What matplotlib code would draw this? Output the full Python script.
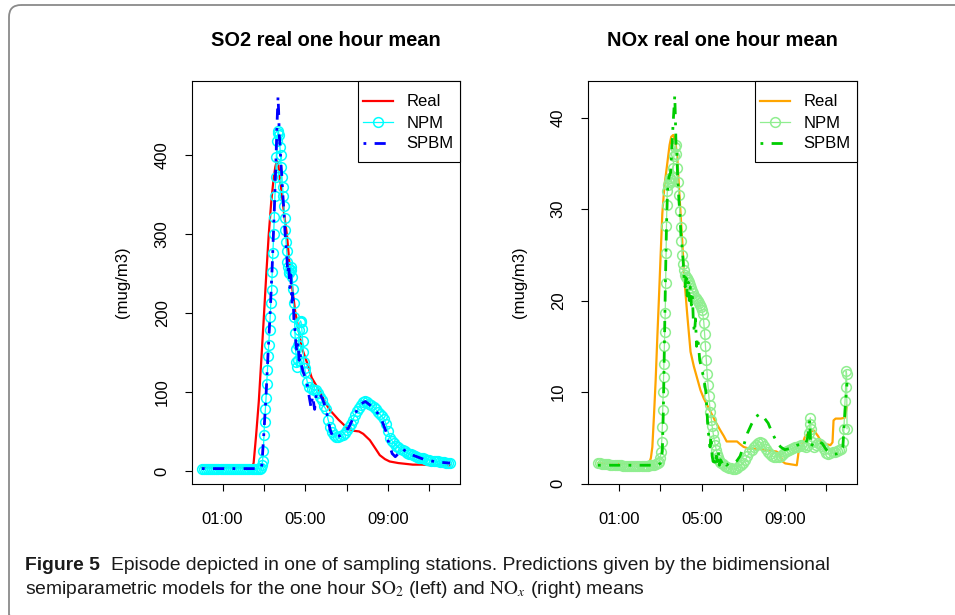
import matplotlib
matplotlib.use("Agg")
import matplotlib.pyplot as plt
from matplotlib.patches import FancyBboxPatch, Rectangle

plt.rcParams['font.family'] = ['Liberation Sans', 'DejaVu Sans']
plt.rcParams['mathtext.fontset'] = 'stix'

# ---------------- data (time in hours, values in mug/m3) ----------------
# SO2 - real
so2_real_t = [0.0, 2.4, 2.5, 2.62, 2.75, 2.87, 2.99, 3.11, 3.23, 3.35, 3.47, 3.55, 3.62, 3.68,
              3.75, 3.87, 4.0, 4.11, 4.27, 4.51, 4.83, 5.07, 5.31, 5.71, 6.0, 6.19, 6.6, 7.0,
              7.3, 7.6, 7.8, 8.12, 8.4, 8.6, 8.85, 9.08, 9.5, 10.2, 10.68, 11.2, 12.0]
so2_real_v = [4, 4, 10, 45, 88, 140, 193, 248, 299, 340, 371, 385, 392, 390,
              375, 349, 320, 299, 252, 202, 156, 138, 118, 100, 85, 77, 65, 55,
              51, 50, 47, 39, 28, 20, 15, 12, 10, 8, 8, 7, 7]

# SO2 - NPM
so2_npm_t = [0.0, 0.1, 0.2, 0.3, 0.4, 0.5, 0.6, 0.7, 0.8, 0.9, 1.0, 1.1, 1.2, 1.3, 1.4,
             1.5, 1.6, 1.7, 1.8, 1.9, 2.0, 2.1, 2.2, 2.3, 2.4, 2.5, 2.6, 2.7, 2.8,
             2.85, 2.9, 2.93, 2.97, 3.0, 3.03, 3.07, 3.1, 3.13, 3.17, 3.2, 3.23, 3.27, 3.3,
             3.33, 3.37, 3.4, 3.43, 3.47, 3.5, 3.53, 3.57, 3.6, 3.63, 3.67, 3.7, 3.73, 3.77,
             3.8, 3.83, 3.87, 3.9, 3.93, 3.97, 4.0, 4.03, 4.07, 4.1, 4.13, 4.17, 4.2, 4.23,
             4.27, 4.3, 4.33, 4.37, 4.4, 4.43, 4.47, 4.5, 4.53, 4.57, 4.6, 4.63, 4.67, 4.7,
             4.73, 4.77, 4.8, 4.83, 4.87, 4.9, 4.93, 4.97, 5.0,
             5.1, 5.2, 5.3, 5.4, 5.5, 5.6, 5.7, 5.8, 5.9, 6.0, 6.1, 6.2, 6.3, 6.4, 6.5,
             6.6, 6.7, 6.8, 6.9, 7.0, 7.1, 7.2, 7.3, 7.4, 7.5, 7.6, 7.7, 7.8, 7.9, 8.0,
             8.1, 8.2, 8.3, 8.4, 8.5, 8.6, 8.7, 8.8, 8.9, 9.0, 9.1, 9.2, 9.3, 9.4, 9.5,
             9.6, 9.7, 9.8, 9.9, 10.0, 10.1, 10.2, 10.3, 10.4, 10.5, 10.6, 10.7, 10.8, 10.9,
             11.0, 11.1, 11.2, 11.3, 11.4, 11.5, 11.6, 11.7, 11.8, 11.9, 12.0]
so2_npm_v = [3, 3, 3, 3, 3, 3, 3, 3, 3, 3, 3, 3, 3, 3, 3,
             3, 3, 3, 3, 3, 3, 3, 3, 3, 3, 3, 3, 3, 3,
             4, 8, 12, 25, 46, 62, 78, 92, 110, 128, 145, 160, 178, 195,
             212, 229, 252, 276, 300, 322, 348, 372, 398, 418, 428, 430, 425, 410,
             400, 385, 372, 360, 348, 335, 320, 305, 290, 278, 265, 258, 252, 250,
             255, 258, 255, 245, 230, 212, 195, 175, 155, 138, 132, 140, 160, 178,
             188, 190, 188, 180, 165, 150, 138, 130, 125,
             112, 106, 104, 103, 102, 99, 94, 90, 82, 78, 65, 56, 49, 45, 43,
             43, 44, 46, 48, 52, 56, 60, 65, 71, 76, 80, 84, 87, 88, 87,
             85, 83, 81, 78, 75, 72, 69, 66, 60, 50, 42, 38, 35, 32, 30,
             28, 26, 25, 23, 22, 21, 20, 19, 18, 17, 16, 16, 15, 14,
             14, 13, 13, 12, 12, 11, 11, 11, 10, 10, 10]

# SO2 - SPBM
so2_spbm_t = [0.0, 2.85, 2.9, 3.0, 3.1, 3.2, 3.3, 3.4, 3.5, 3.55, 3.6, 3.64, 3.68, 3.71,
              3.74, 3.78, 3.82, 3.86, 3.9, 3.95, 4.0, 4.05, 4.1, 4.15, 4.2, 4.25, 4.3, 4.35,
              4.4, 4.45, 4.5, 4.55, 4.6, 4.65, 4.7, 4.75, 4.8, 4.9, 5.0, 5.1, 5.2, 5.28,
              5.35, 5.45, 5.55, 5.7, 5.85, 6.0, 6.1, 6.2, 6.35, 6.5, 6.7, 6.9, 7.1, 7.3,
              7.5, 7.7, 7.9, 8.1, 8.3, 8.5, 8.7, 8.9, 9.05, 9.2, 9.35, 9.5, 9.7, 9.85,
              10.0, 10.3, 10.7, 11.0, 11.5, 12.0]
so2_spbm_v = [3, 3, 8, 50, 95, 150, 200, 260, 330, 370, 410, 445, 474, 455,
              425, 410, 390, 375, 355, 335, 310, 290, 275, 250, 262, 232, 248, 212,
              228, 190, 178, 160, 150, 162, 140, 150, 135, 125, 118, 108, 92, 80,
              95, 78, 100, 98, 90, 78, 65, 52, 42, 43, 45, 48, 55, 66,
              77, 85, 88, 84, 79, 73, 64, 50, 34, 22, 18, 22, 28, 25,
              22, 19, 15, 13, 11, 10]

# NOx - real
nox_real_t = [0.0, 2.46, 2.55, 2.62, 2.7, 2.78, 2.86, 2.94, 3.02, 3.1, 3.2, 3.34, 3.45, 3.53,
              3.63, 3.72, 3.82, 3.9, 3.98, 4.06, 4.14, 4.3, 4.46, 4.62, 4.78, 4.94, 5.1,
              5.3, 5.5, 5.7, 5.9, 6.06, 6.2, 6.4, 6.7, 6.85, 7.02, 7.3, 7.66, 8.0, 8.3,
              8.6, 8.78, 8.9, 9.02, 9.3, 9.58, 9.64, 9.67, 9.8, 9.97, 10.2, 10.4, 10.6,
              10.8, 11.0, 11.2, 11.3, 11.35, 11.45, 11.7, 11.9, 12.0]
nox_real_v = [2.2, 2.2, 2.8, 4.0, 7.5, 11.3, 16.0, 20.4, 25.0, 29.5, 32.5, 35.0, 37.0, 37.9,
              38.1, 37.5, 35.7, 32.5, 29.5, 26.5, 23.0, 18.5, 14.4, 12.8, 11.5, 10.2, 9.3,
              8.4, 7.5, 6.6, 5.8, 5.2, 4.6, 4.6, 4.6, 4.3, 4.0, 3.8, 3.8, 3.7, 3.6,
              3.5, 3.2, 2.4, 2.2, 2.1, 2.0, 3.0, 3.6, 4.0, 5.1, 5.6, 5.8, 5.2,
              4.4, 4.3, 4.2, 4.5, 6.9, 7.1, 7.1, 7.2, 8.5]

# NOx - NPM
nox_npm_t = [0.0, 0.1, 0.2, 0.3, 0.4, 0.5, 0.6, 0.7, 0.8, 0.9, 1.0, 1.1, 1.2, 1.3, 1.4,
             1.5, 1.6, 1.7, 1.8, 1.9, 2.0, 2.1, 2.2, 2.3, 2.4, 2.5, 2.6, 2.7, 2.8, 2.9,
             2.95, 3.0, 3.04, 3.07, 3.1, 3.12, 3.14, 3.16, 3.18, 3.2, 3.22, 3.24, 3.26, 3.28,
             3.3, 3.32, 3.34, 3.38, 3.42, 3.46, 3.5, 3.54, 3.58, 3.62, 3.66, 3.7, 3.74, 3.78,
             3.82, 3.86, 3.9, 3.94, 3.98, 4.02, 4.06, 4.1, 4.15, 4.2, 4.25, 4.3, 4.35, 4.4,
             4.45, 4.5, 4.55, 4.6, 4.65, 4.7, 4.75, 4.8, 4.85, 4.9, 4.95, 5.0, 5.05, 5.1,
             5.14, 5.18, 5.22, 5.26, 5.3, 5.34, 5.38, 5.42, 5.46, 5.5, 5.55, 5.6, 5.65, 5.7,
             5.75, 5.8, 5.85, 5.9, 5.95, 6.0, 6.1, 6.2, 6.3, 6.4, 6.5, 6.6, 6.7, 6.8, 6.9,
             7.0, 7.1, 7.2, 7.3, 7.4, 7.5, 7.6, 7.7, 7.8, 7.9, 8.0, 8.1, 8.2, 8.3, 8.4,
             8.5, 8.6, 8.7, 8.8, 8.9, 9.0, 9.1, 9.2, 9.3, 9.4, 9.5, 9.6, 9.7, 9.8, 9.9,
             10.0, 10.1, 10.15, 10.2, 10.23, 10.26, 10.3, 10.4, 10.5, 10.6, 10.7, 10.8, 10.9,
             11.0, 11.1, 11.2, 11.3, 11.4, 11.5, 11.6, 11.7, 11.8, 11.85, 11.9, 11.93, 11.96,
             11.98, 12.0]
nox_npm_v = [2.2, 2.2, 2.1, 2.1, 2.1, 2.1, 2.0, 2.0, 2.0, 2.0, 2.0, 2.0, 1.9, 1.9, 1.9,
             1.9, 1.9, 1.9, 1.9, 1.9, 1.9, 1.9, 1.9, 1.9, 1.9, 2.0, 2.0, 2.0, 2.1, 2.2,
             2.4, 2.8, 3.5, 4.5, 6.2, 8.0, 10.0, 11.6, 13.1, 15.0, 16.6, 18.6, 21.9, 25.2,
             28.1, 30.4, 32.0, 32.6, 33.0, 33.4, 33.2, 33.0, 33.5, 34.5, 35.8, 36.8, 37.0, 36.0,
             34.5, 33.0, 31.5, 29.8, 28.0, 26.5, 25.0, 24.0, 23.3, 22.8, 22.6, 22.5, 22.3, 22.0,
             21.7, 21.4, 21.1, 20.8, 20.5, 20.3, 20.1, 19.9, 19.7, 19.5, 19.3, 19.0, 18.5, 17.6,
             16.3, 15.0, 13.5, 12.0, 10.8, 9.6, 8.6, 7.8, 7.0, 6.3, 5.5, 4.8, 4.2, 3.7,
             3.2, 2.9, 2.6, 2.4, 2.2, 2.1, 1.9, 1.8, 1.7, 1.7, 1.6, 1.6, 1.7, 1.9, 2.0,
             2.2, 2.6, 3.0, 3.4, 3.7, 4.0, 4.2, 4.4, 4.5, 4.4, 4.1, 3.8, 3.5, 3.2, 3.0,
             2.9, 2.9, 2.9, 3.0, 3.2, 3.4, 3.6, 3.7, 3.8, 3.9, 4.0, 4.0, 4.1, 4.2, 4.1,
             4.0, 4.2, 5.5, 6.5, 7.2, 6.0, 4.5, 4.0, 4.2, 4.4, 4.3, 4.1, 3.8,
             3.3, 3.2, 3.3, 3.4, 3.5, 3.6, 3.7, 3.8, 4.5, 6.0, 9.0, 10.5, 12.3,
             12.0, 6.0]

# NOx - SPBM
nox_spbm_t = [0.0, 2.9, 3.0, 3.1, 3.15, 3.2, 3.25, 3.3, 3.35, 3.42, 3.5, 3.55, 3.6, 3.65,
              3.7, 3.73, 3.76, 3.8, 3.85, 3.9, 3.95, 4.0, 4.05, 4.1, 4.15, 4.2, 4.25, 4.3,
              4.35, 4.4, 4.45, 4.5, 4.55, 4.6, 4.65, 4.7, 4.75, 4.8, 4.85, 4.9, 5.0, 5.1,
              5.2, 5.25, 5.3, 5.35, 5.4, 5.45, 5.5, 5.55, 5.6, 5.65, 5.7, 5.75, 5.8, 5.85,
              5.9, 6.0, 6.1, 6.2, 6.3, 6.5, 6.7, 6.85, 7.0, 7.2, 7.4, 7.6, 7.8, 8.0,
              8.2, 8.4, 8.6, 8.8, 9.0, 9.2, 9.4, 9.6, 9.8, 10.0, 10.1, 10.2, 10.25, 10.4,
              10.6, 10.8, 11.0, 11.2, 11.4, 11.6, 11.8, 11.9, 12.0]
nox_spbm_v = [2.0, 2.0, 2.2, 3.5, 8.0, 15.0, 22.0, 28.0, 32.0, 33.5, 34.0, 36.0, 38.5, 40.5,
              42.4, 40.0, 37.0, 36.0, 33.0, 31.0, 29.5, 27.0, 26.0, 24.5, 22.5, 21.5, 23.0, 20.5,
              22.0, 20.0, 21.5, 19.5, 20.5, 17.5, 16.5, 18.0, 15.0, 16.0, 15.0, 13.5, 12.5, 11.5,
              10.0, 8.0, 6.0, 5.0, 4.0, 5.2, 3.0, 2.4, 3.0, 2.0, 3.0, 2.4, 3.5, 2.0,
              2.6, 2.2, 2.5, 2.0, 2.2, 2.2, 2.5, 3.0, 4.0, 5.5, 6.5, 7.3, 7.6, 7.2,
              6.6, 5.5, 4.6, 4.0, 3.7, 3.8, 4.0, 4.2, 4.3, 4.3, 5.0, 6.9, 4.0, 4.5,
              4.6, 4.4, 3.7, 3.4, 3.2, 3.3, 4.0, 8.0, 11.0]

hour_ticks = [1, 3, 5, 7, 9, 11]
hour_labels = ['01:00', '', '05:00', '', '09:00', '']
so2_yticks = [0, 100, 200, 300, 400]
nox_yticks = [0, 10, 20, 30, 40]

# ---------------- figure ----------------
W, H = 955, 615
fig = plt.figure(figsize=(W / 100, H / 100), dpi=100)

# rounded frame around the whole figure
bg = fig.add_axes([0, 0, 1, 1])
bg.set_xlim(0, W)
bg.set_ylim(H, 0)
bg.axis('off')
bg.add_patch(FancyBboxPatch((9, 5), 990, 622, boxstyle='round,pad=0,rounding_size=12',
                            facecolor='none', edgecolor='#8a8a8a', lw=1.3))


def make_axes(x0, x1, y0=81, y1=484):
    return fig.add_axes([x0 / W, 1 - y1 / H, (x1 - x0) / W, (y1 - y0) / H])


def style_axes(ax, yticks, ylim):
    ax.set_xlim(-0.48, 12.48)
    ax.set_ylim(*ylim)
    ax.set_xticks(hour_ticks)
    ax.set_xticklabels(hour_labels)
    ax.set_yticks(yticks)
    ax.set_yticklabels([str(v) for v in yticks], rotation=90, va='center')
    ax.tick_params(axis='both', direction='out', length=5, width=0.8, labelsize=12, colors='black')
    ax.tick_params(axis='x', pad=15)
    ax.tick_params(axis='y', pad=11)
    for s in ax.spines.values():
        s.set_linewidth(0.8)
        s.set_color('black')


def legend_box(ax, x0, x1, handles):
    # legend frame drawn by hand, in figure pixel coordinates
    fx0, fx1 = x0 / W, x1 / W
    fy0, fy1 = 1 - 162 / H, 1 - 81 / H
    fig.add_artist(Rectangle((fx0, fy0), fx1 - fx0, fy1 - fy0, transform=fig.transFigure,
                             facecolor='white', edgecolor='black', lw=0.8, zorder=5))
    leg = ax.legend(handles=handles, loc='center', frameon=False, fontsize=12,
                    bbox_to_anchor=((fx0 + fx1) / 2 - 0.001, (fy0 + fy1) / 2 - 1.5 / H),
                    bbox_transform=fig.transFigure, borderpad=0, borderaxespad=0,
                    handlelength=1.8, handletextpad=0.8, labelspacing=0.36)
    leg.set_zorder(6)
    fig.add_artist(leg)


# ---- SO2 ----
ax1 = make_axes(192, 460)
l1, = ax1.plot(so2_real_t, so2_real_v, color='red', lw=1.6, label='Real')
l2, = ax1.plot(so2_npm_t, so2_npm_v, color='cyan', lw=0.9, marker='o', ms=7,
               mfc='none', mec='cyan', mew=1.1, label='NPM')
l3, = ax1.plot(so2_spbm_t, so2_spbm_v, color='blue', lw=2.0, ls=(0, (1, 3, 4, 3)), label='SPBM')
style_axes(ax1, so2_yticks, (-16.5, 493.6))
legend_box(ax1, 358, 460, [l1, l2, l3])

# ---- NOx ----
ax2 = make_axes(588, 857)
m1, = ax2.plot(nox_real_t, nox_real_v, color='orange', lw=1.6, label='Real')
m2, = ax2.plot(nox_npm_t, nox_npm_v, color='lightgreen', lw=0.9, marker='o', ms=7,
               mfc='none', mec='lightgreen', mew=1.1, label='NPM')
m3, = ax2.plot(nox_spbm_t, nox_spbm_v, color='#00CD00', lw=2.0, ls=(0, (1, 3, 4, 3)), label='SPBM')
style_axes(ax2, nox_yticks, (-0.05, 44.0))
legend_box(ax2, 755, 857, [m1, m2, m3])

# titles and y labels
fig.text(326 / W, 1 - 40 / H, 'SO2 real one hour mean', ha='center', va='center',
         fontsize=14.4, fontweight='bold')
fig.text(722 / W, 1 - 40 / H, 'NOx real one hour mean', ha='center', va='center',
         fontsize=14.4, fontweight='bold')
fig.text(122 / W, 1 - 282 / H, '(mug/m3)', rotation=90, ha='center', va='center', fontsize=12)
fig.text(519 / W, 1 - 282 / H, '(mug/m3)', rotation=90, ha='center', va='center', fontsize=12)

# caption
cap_font = ['Liberation Sans Narrow', 'Liberation Sans', 'DejaVu Sans']
fig.text(25 / W, 1 - 565 / H, 'Figure 5', family=cap_font, fontweight='bold', fontsize=13.9,
         va='center', color='#1a1a1a')
fig.text(111 / W, 1 - 565 / H,
         'Episode depicted in one of sampling stations. Predictions given by the bidimensional',
         family=cap_font, fontsize=13.9, va='center', color='#1a1a1a')
fig.text(25 / W, 1 - 590 / H,
         r'semiparametric models for the one hour $\mathrm{SO}_2$ (left) and $\mathrm{NO}_x$ (right) means',
         family=cap_font, fontsize=13.9, va='center', color='#1a1a1a')

fig.savefig('out.png', dpi=100)
